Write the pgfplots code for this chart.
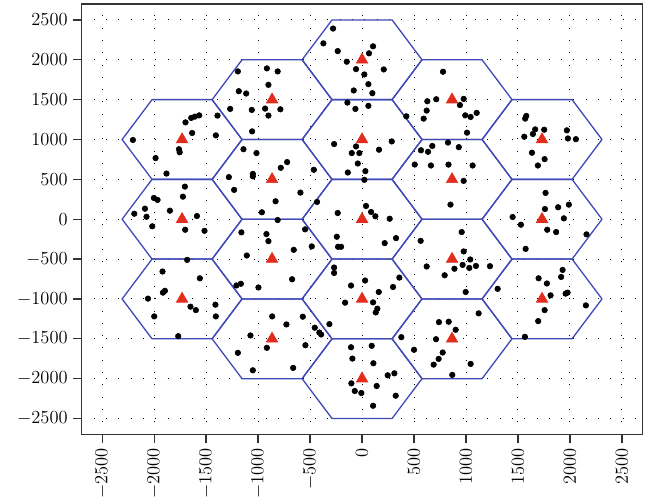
\documentclass[border=0pt]{standalone}
\usepackage{pgfplots}
\pgfplotsset{compat=1.18}
\definecolor{hexblue}{RGB}{64,74,182}
\definecolor{trired}{RGB}{226,44,30}
\newcommand{\hexcell}[7]{\addplot[hexblue, line width=0.85pt] coordinates {(#1,#5) (#2,#6) (#3,#6) (#4,#5) (#3,#7) (#2,#7) (#1,#5)};}
\begin{document}
\begin{tikzpicture}
\begin{axis}[
  scale only axis, width=365pt, height=280pt,
  xmin=-2700, xmax=2700, ymin=-2700, ymax=2700,
  xtick={-2500,-2000,...,2500}, ytick={-2500,-2000,...,2500},
  xtick pos=lower, ytick pos=left,
  tick align=outside, major tick length=5.5pt,
  grid=major,
  major grid style={black, line width=0.6pt, dash pattern=on 0.6pt off 7.4pt},
  axis line style={line width=1.1pt, black!80},
  tick style={line width=0.9pt, black!80},
  ticklabel style={font=\fontsize{11.5}{12}\selectfont},
  xticklabel style={rotate=90, anchor=east},
  /pgf/number format/1000 sep={},
]
% hexagonal cells
\hexcell{577}{289}{-289}{-577}{0}{500}{-500}
\hexcell{577}{289}{-289}{-577}{1000}{1500}{500}
\hexcell{577}{289}{-289}{-577}{2000}{2500}{1500}
\hexcell{577}{289}{-289}{-577}{-1000}{-500}{-1500}
\hexcell{577}{289}{-289}{-577}{-2000}{-1500}{-2500}
\hexcell{1443}{1155}{577}{289}{500}{1000}{0}
\hexcell{1443}{1155}{577}{289}{1500}{2000}{1000}
\hexcell{1443}{1155}{577}{289}{-500}{0}{-1000}
\hexcell{1443}{1155}{577}{289}{-1500}{-1000}{-2000}
\hexcell{-289}{-577}{-1155}{-1443}{500}{1000}{0}
\hexcell{-289}{-577}{-1155}{-1443}{1500}{2000}{1000}
\hexcell{-289}{-577}{-1155}{-1443}{-500}{0}{-1000}
\hexcell{-289}{-577}{-1155}{-1443}{-1500}{-1000}{-2000}
\hexcell{2309}{2021}{1443}{1155}{0}{500}{-500}
\hexcell{2309}{2021}{1443}{1155}{1000}{1500}{500}
\hexcell{2309}{2021}{1443}{1155}{-1000}{-500}{-1500}
\hexcell{-1155}{-1443}{-2021}{-2309}{0}{500}{-500}
\hexcell{-1155}{-1443}{-2021}{-2309}{1000}{1500}{500}
\hexcell{-1155}{-1443}{-2021}{-2309}{-1000}{-500}{-1500}
% users
\addplot[only marks, mark=*, mark size=1.8pt, black] coordinates {
(-1195,1854) (-916,1892) (-812,1854) (-901,1686) (-1186,1606) (-1115,1577) (-1269,1384) (-1061,1371) (-933,1388) (-901,1300) (-1058,1102) (-1391,1300) (-1567,1303) (-1609,1287) (-1644,1271) (-1699,1215) (-1635,1082) (-1407,1052) (-2205,994) (-1762,878) (-1755,840) (-1141,878)
(-279,2392) (-372,2206) (-234,2109) (106,2169) (67,2081) (-147,1976) (-58,1883) (22,1816) (209,1879) (61,1694) (-80,1615) (99,1581) (-141,1463) (-64,1384) (61,1422) (-786,1379)
(779,1850) (628,1480) (714,1505) (622,1363) (426,1291) (593,1262) (942,1432)
(-269,943) (-58,913) (163,872) (286,976) (567,865) (676,919) (827,962) (931,904)
(978,1510) (993,1303) (1045,1283) (1103,1334) (1010,1086) (1580,1296) (1570,1262) (1666,1127) (1644,1069) (1753,1123) (1561,1035) (1971,1115) (1981,1013) (2058,1004)
(-1987,767) (-1882,573) (-1016,830) (-1282,528) (-1051,569) (-1051,538) (-1231,368) (-832,225) (-964,87) (-812,-10) (-1705,409) (-1724,283) (-2003,267) (-1968,242) (-2089,132) (-2192,69) (-1849,107) (-2074,31) (-1589,40) (-2019,-89) (-1702,-132) (-1516,-145) (-1161,-165) (-920,-186) (-901,-275) (-1109,-455) (-1683,-510) (-1920,-656) (-1561,-741) (-1209,-831) (-1166,-810) (-997,-856) (-1897,-898) (-1916,-921)
(-99,830) (-26,830) (-41,699) (-137,586) (32,603) (22,494) (-721,717) (-782,645) (-464,620) (-593,334) (-433,217) (38,166) (87,91) (128,37) (-234,78) (266,6) (-548,-127) (-243,-220) (-231,-346) (-202,-346) (-484,-341) (-657,-384) (218,-300) (327,-237) (564,-271) (622,-593) (795,-703) (889,-621) (-269,-606) (-269,-674) (29,-769) (-106,-832) (298,-850) (359,-732) (-673,-753)
(507,686) (635,846) (663,674) (832,685) (851,183) (1064,674) (978,481) (1635,834) (1757,754) (1692,674) (1766,330) (1760,128) (1887,150) (1990,183) (1942,11) (1449,28) (1529,-69) (1782,-132) (1868,-161) (2160,-190) (1574,-372) (959,-161) (978,-404) (1041,-505) (968,-573) (1032,-611) (1096,-586) (1231,-589) (1305,-873) (1930,-636) (1916,-724) (1699,-741) (1779,-806)
(-2060,-996) (-1651,-1097) (-1599,-1140) (-1411,-1072) (-1407,-1219) (-2000,-1219) (-1769,-1467) (-865,-1219) (-1074,-1458) (-916,-1613) (-1195,-1676) (-1051,-1895)
(161,-913) (-163,-1047) (106,-1043) (147,-1122) (132,-1169) (-728,-1320) (-570,-1223) (-455,-1361) (-411,-1421) (-394,-1446) (-314,-1316) (-545,-1581) (-663,-1865) (-106,-1606) (93,-1588) (-93,-1748) (109,-1807) (-103,-2059) (-70,-2155) (-7,-2180) (141,-2092) (247,-1958) (311,-1933) (324,-2214) (106,-2340)
(378,-1480) (500,-1638) (740,-1291) (834,-1286) (901,-1387) (712,-1505) (776,-1672) (737,-1752) (689,-1824) (868,-1953) (997,-913) (1122,-1181) (1045,-1815) (1814,-955) (1959,-933) (1978,-921) (2154,-1081) (1757,-1140) (1695,-1278) (1567,-1475)
};
% base stations
\addplot[only marks, mark=triangle*, mark size=4.3pt, color=trired, mark options={fill=trired, draw=trired}] coordinates {
(0,0) (0,1000) (0,2000) (0,-1000) (0,-2000)
(866,500) (866,1500) (866,-500) (866,-1500)
(-866,500) (-866,1500) (-866,-500) (-866,-1500)
(1732,0) (1732,1000) (1732,-1000)
(-1732,0) (-1732,1000) (-1732,-1000)
};
\end{axis}
\path (current axis.south west) ++(-53pt,-42pt) coordinate (bl);
\path (current axis.north east) ++(10pt,2.6pt) coordinate (tr);
\path (bl) rectangle (tr);
\end{tikzpicture}
\end{document}
